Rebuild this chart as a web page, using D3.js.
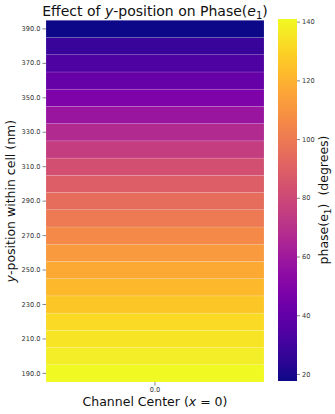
<!DOCTYPE html>
<html><head><meta charset="utf-8">
<script src="https://cdn.jsdelivr.net/npm/d3@7"></script>
<style>
html,body{margin:0;padding:0;background:#fff;}
svg text{font-family:"DejaVu Sans",sans-serif;}
</style></head>
<body>
<svg id="chart" width="335" height="414"></svg>
<script>
// ---- data ----
const yPositions = [190,200,210,220,230,240,250,260,270,280,290,300,310,320,330,340,350,360,370,380,390];
const phaseValues = [140.9,138,135,132,126,122,117,112,106,100,95,89,83,75,67,58,48.5,41,33.6,27.5,17.6];
const xCategories = ["0.0"];
const yTickLabels = [190,210,230,250,270,290,310,330,350,370,390];
const colorTicks = [20,40,60,80,100,120,140];
const colorDomain = [17.6, 140.9];

(function(){
const svg = d3.select("#chart");
const mLeft = 46, mRight = 264, mTop = 20.3, mBottom = 382;

const x = d3.scaleBand().domain(xCategories).range([mLeft, mRight]);
const y = d3.scaleBand().domain(yPositions.slice().reverse().map(String)).range([mTop, mBottom]);
const color = d3.scaleSequential(d3.interpolatePlasma).domain(colorDomain);

// cells
svg.append("g").selectAll("rect")
  .data(yPositions.map((p,i)=>({p, v: phaseValues[i]})))
  .join("rect")
  .attr("x", x("0.0"))
  .attr("width", x.bandwidth())
  .attr("y", d => y(String(d.p)))
  .attr("height", y.bandwidth())
  .attr("fill", d => color(d.v))
  .attr("stroke", "rgba(255,255,255,0.22)")
  .attr("stroke-width", 0.6);

// y axis
const yAxis = d3.axisLeft(y)
  .tickValues(yTickLabels.map(String))
  .tickFormat(d => (+d).toFixed(1))
  .tickSize(3.5).tickPadding(2);
const gy = svg.append("g").attr("transform", `translate(${mLeft},0)`).call(yAxis);
gy.select(".domain").remove();
gy.selectAll("text").attr("font-size", 6.6).attr("fill", "#333");
gy.selectAll("line").attr("stroke", "#333").attr("stroke-width", 0.6);

// x axis
const xAxis = d3.axisBottom(x).tickSize(3.5).tickPadding(2);
const gx = svg.append("g").attr("transform", `translate(0,${mBottom})`).call(xAxis);
gx.select(".domain").remove();
gx.selectAll("text").attr("font-size", 6.6).attr("fill", "#333");
gx.selectAll("line").attr("stroke", "#333").attr("stroke-width", 0.6);

// title
const title = svg.append("text").attr("x", (mLeft+mRight)/2).attr("y", 16)
  .attr("text-anchor", "middle").attr("font-size", 14).attr("fill", "#111");
title.append("tspan").text("Effect of ");
title.append("tspan").attr("font-style", "italic").text("y");
title.append("tspan").text("-position on Phase(");
title.append("tspan").attr("font-style", "italic").text("e");
title.append("tspan").attr("font-size", 10).attr("dy", 3).text("1");
title.append("tspan").attr("dy", -3).text(")");

// y label
const yl = svg.append("text").attr("transform", `translate(15,${(mTop+mBottom)/2}) rotate(-90)`)
  .attr("text-anchor", "middle").attr("font-size", 12.5).attr("fill", "#111");
yl.append("tspan").attr("font-style", "italic").text("y");
yl.append("tspan").text("-position within cell (nm)");

// x label
const xl = svg.append("text").attr("x", (mLeft+mRight)/2).attr("y", 406)
  .attr("text-anchor", "middle").attr("font-size", 12.5).attr("fill", "#111");
xl.append("tspan").text("Channel Center (");
xl.append("tspan").attr("font-style", "italic").text("x");
xl.append("tspan").text(" = 0)");

// colorbar
const cbX = 278, cbW = 19, cbTop = 19, cbBottom = 381;
const defs = svg.append("defs");
const grad = defs.append("linearGradient").attr("id", "cbgrad")
  .attr("x1", 0).attr("y1", 1).attr("x2", 0).attr("y2", 0);
d3.range(0, 1.0001, 0.05).forEach(t => {
  grad.append("stop").attr("offset", t).attr("stop-color", d3.interpolatePlasma(t));
});
svg.append("rect").attr("x", cbX).attr("y", cbTop).attr("width", cbW)
  .attr("height", cbBottom - cbTop).attr("fill", "url(#cbgrad)");
const cScale = d3.scaleLinear().domain(colorDomain).range([cbBottom, cbTop]);
const cAxis = d3.axisRight(cScale).tickValues(colorTicks).tickSize(3).tickPadding(2);
const gc = svg.append("g").attr("transform", `translate(${cbX+cbW},0)`).call(cAxis);
gc.select(".domain").remove();
gc.selectAll("text").attr("font-size", 6.6).attr("fill", "#333");
gc.selectAll("line").attr("stroke", "#333").attr("stroke-width", 0.6);

// colorbar label
const cl = svg.append("text").attr("transform", `translate(328,${(cbTop+cbBottom)/2}) rotate(-90)`)
  .attr("text-anchor", "middle").attr("font-size", 12.5).attr("fill", "#111");
cl.append("tspan").text("phase(e");
cl.append("tspan").attr("font-size", 9).attr("dy", 3).text("1");
cl.append("tspan").attr("dy", -3).attr("xml:space", "preserve").text(")  (degrees)");
})();
</script>
</body></html>
